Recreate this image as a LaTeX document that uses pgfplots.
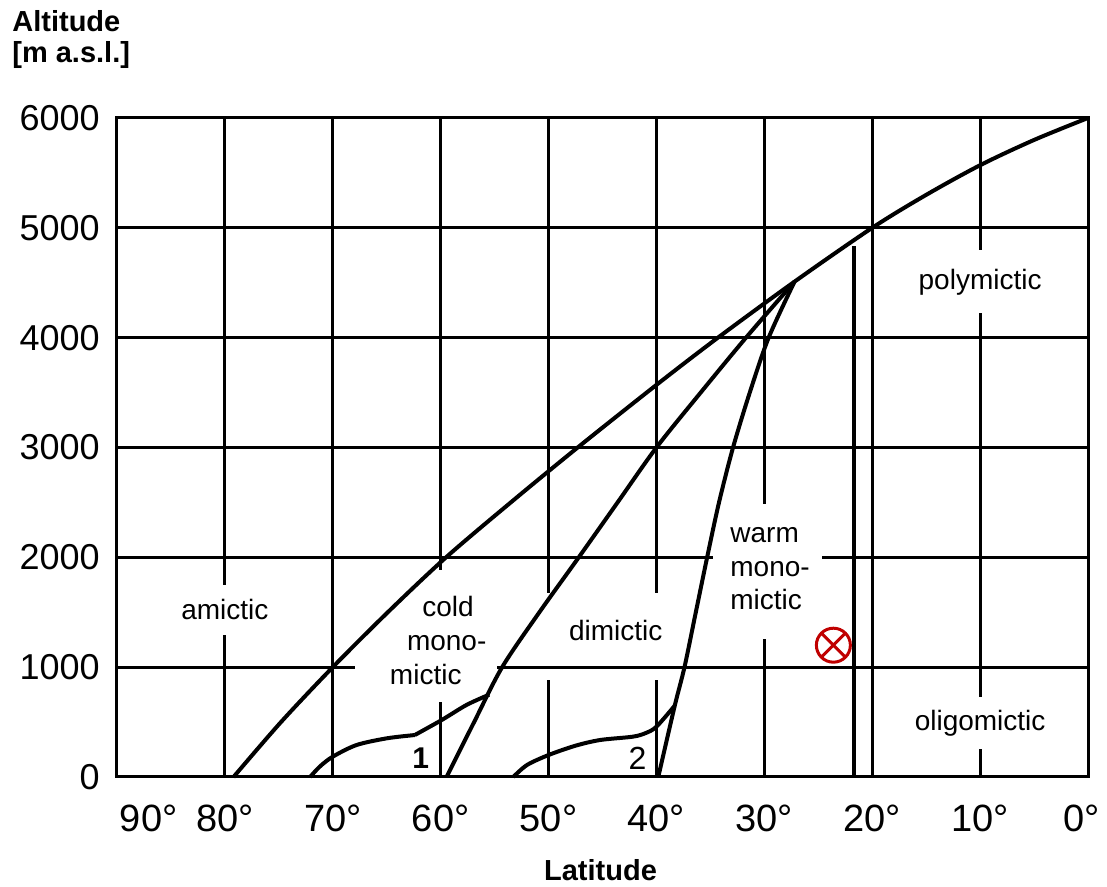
\documentclass[border=0pt]{standalone}
\usepackage{fontspec}
\setmainfont{Liberation Sans}
\usepackage{pgfplots}
\pgfplotsset{compat=1.18}
\usetikzlibrary{plotmarks}

\definecolor{markred}{HTML}{C00000}

\begin{document}
\begin{tikzpicture}
\begin{axis}[
  name=ax,
  scale only axis, width=485.5pt, height=329.5pt,
  xmin=0, xmax=90, ymin=0, ymax=6000, x dir=reverse,
  xtick={0,10,...,90}, ytick={0,1000,...,6000},
  xticklabels={\makebox[0pt][r]{0°\kern-6pt},10°,20°,30°,40°,50°,60°,70°,80°,\makebox[0pt][l]{\kern1.5pt 90°}},
  yticklabels={0,1000,2000,3000,4000,5000,6000},
  major tick length=0pt,
  grid=major, grid style={black, line width=1.5pt},
  axis line style={black, line width=1.5pt},
  tick label style={inner sep=0pt},
  xticklabel style={font=\fontsize{19}{19}\selectfont, yshift=-14pt},
  yticklabel style={font=\fontsize{18}{18}\selectfont, xshift=-8.5pt},
  clip=false,
]
% white space around the zone names
\fill[white] (axis cs:84,1293) rectangle (axis cs:76,1748);
\fill[white] (axis cs:67.9,683) rectangle (axis cs:54.8,1885);
\fill[white] (axis cs:51,883) rectangle (axis cs:39,1675);
\draw[black, line width=1.5pt] (axis cs:51,1000) -- (axis cs:39,1000);
\fill[white] (axis cs:34.8,1256) rectangle (axis cs:24.7,2486);
\fill[white] (axis cs:16,4225) rectangle (axis cs:4,4798);
\fill[white] (axis cs:16,255) rectangle (axis cs:4,728);

% zone names
\begin{scope}[every node/.style={font=\fontsize{14}{14}\selectfont, inner sep=0pt}]
\node[anchor=base] at (axis cs:80,1430) {amictic};
\node[anchor=base] at (axis cs:59.32,1457) {cold};
\node[anchor=base] at (axis cs:59.44,1156) {mono-};
\node[anchor=base] at (axis cs:61.38,838) {mictic};
\node[anchor=base] at (axis cs:43.77,1247) {dimictic};
\node[anchor=base west] at (axis cs:33.18,2133) {warm};
\node[anchor=base west] at (axis cs:33.18,1824) {mono-};
\node[anchor=base west] at (axis cs:33.18,1521) {mictic};
\node[anchor=base] at (axis cs:10,4434) {polymictic};
\node[anchor=base] at (axis cs:10,422) {oligomictic};
\node[anchor=base, font=\bfseries\fontsize{15}{15}\selectfont] at (axis cs:61.84,79) {1};
\node[anchor=base, font=\fontsize{16}{16}\selectfont] at (axis cs:41.76,64) {2};
\end{scope}

% upper limit of lakes
\addplot[black, line width=2pt, smooth] coordinates {
  (79.2,0) (74.8,500) (70,1000) (64.9,1500) (59.5,2000) (53.5,2500) (47.3,3000)
  (40,3570) (34.3,4000) (27.2,4510) (20,5000) (15,5300) (10,5570) (5,5800) (0,6000)};
% dimictic / cold monomictic boundary
\addplot[black, line width=2pt, smooth] coordinates {
  (59.45,0) (56.9,500) (54.3,1000) (50.85,1500) (47.2,2000) (43.6,2500)
  (40.0,3000) (35.9,3500) (31.7,4000) (27.2,4510)};
% warm monomictic boundary
\addplot[black, line width=2pt, smooth] coordinates {
  (39.83,0) (38.3,650) (37.4,1000) (36.35,1500) (35.3,2000) (34.2,2500)
  (32.9,3000) (31.35,3500) (29.6,4000) (27.2,4510)};
% boundary 1
\addplot[black, line width=2pt, smooth] coordinates {
  (72.1,0) (71.2,95) (70,185) (67.8,291) (65,352) (62.4,382)};
\addplot[black, line width=2pt, smooth] coordinates {
  (62.4,382) (59.9,519) (57.6,656) (55.5,750)};
% boundary 2
\addplot[black, line width=2pt, smooth] coordinates {
  (53.27,0) (52.0,109) (50,200) (47.5,285) (45.2,337) (42.2,367)
  (41,400) (40,458) (38.3,650)};
% vertical line near the tropic
\addplot[black, line width=2pt] coordinates {(21.7,0) (21.7,4830)};

% site marker
\addplot[only marks, mark=otimes, mark size=8.5pt, markred,
  mark options={line width=1.5pt}] coordinates {(23.6,1200)};
\end{axis}

\node[anchor=base west, inner sep=0pt, font=\bfseries\fontsize{14.5}{14.5}\selectfont]
  at ([xshift=-52.5pt, yshift=372.5pt]ax.south west) {Altitude};
\node[anchor=base west, inner sep=0pt, font=\bfseries\fontsize{14.5}{14.5}\selectfont]
  at ([xshift=-52.5pt, yshift=357pt]ax.south west) {[m a.s.l.]};
\node[anchor=base, inner sep=0pt, font=\bfseries\fontsize{14.5}{14.5}\selectfont]
  at ([xshift=241.75pt, yshift=-52pt]ax.south west) {Latitude};

\pgfresetboundingbox
\useasboundingbox ([xshift=-58.5pt, yshift=-55pt]ax.south west) rectangle ([xshift=495pt, yshift=388.5pt]ax.south west);
\end{tikzpicture}
\end{document}
